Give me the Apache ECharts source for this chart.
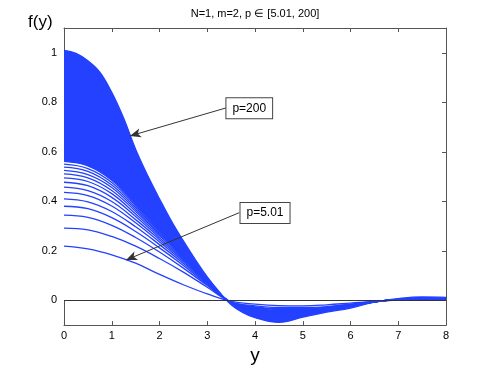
<!DOCTYPE html>
<html>
<head>
<meta charset="utf-8">
<script src="https://cdn.jsdelivr.net/npm/echarts@6/dist/echarts.min.js"></script>
<style>
  html, body { margin: 0; padding: 0; background: #fff; }
  #chart { width: 493px; height: 370px; }
</style>
</head>
<body>
<div id="chart"></div>
<script>
// sample positions on the y axis (horizontal)
const yPos = [0, 0.5, 1, 1.5, 2, 2.5, 3, 3.5, 4, 4.5, 5, 5.5, 6, 6.5, 7, 7.5, 8];
// finer positions for the steep p=200 curve
const yPosTop = [0, 0.25, 0.5, 0.75, 1, 1.25, 1.5, 1.75, 2, 2.25, 2.5, 2.75, 3, 3.25, 3.5, 3.75, 4, 4.5, 5, 5.5, 6, 6.5, 7, 7.5, 8];

// lowest curve, p = 5.01
const curveP501 = [0.219, 0.208, 0.184, 0.150, 0.105, 0.063, 0.026, -0.004, -0.015, -0.021, -0.022, -0.018, -0.011, -0.004, 0.001, 0.003, 0.003];

const curvesMid = [
  [0.292, 0.285, 0.258, 0.219, 0.169, 0.114, 0.053, -0.006, -0.022, -0.029, -0.029, -0.025, -0.015, -0.004, 0.002, 0.004, 0.004],
  [0.344, 0.335, 0.303, 0.254, 0.195, 0.130, 0.060, -0.007, -0.026, -0.034, -0.034, -0.028, -0.017, -0.005, 0.003, 0.005, 0.005],
  [0.380, 0.370, 0.334, 0.278, 0.212, 0.141, 0.064, -0.008, -0.028, -0.037, -0.036, -0.031, -0.018, -0.005, 0.003, 0.006, 0.006],
  [0.410, 0.398, 0.359, 0.297, 0.225, 0.149, 0.068, -0.008, -0.030, -0.040, -0.039, -0.032, -0.019, -0.006, 0.003, 0.006, 0.006],
  [0.436, 0.423, 0.381, 0.313, 0.236, 0.156, 0.071, -0.009, -0.032, -0.043, -0.041, -0.034, -0.020, -0.006, 0.003, 0.007, 0.006],
  [0.457, 0.443, 0.399, 0.326, 0.245, 0.162, 0.073, -0.009, -0.033, -0.044, -0.042, -0.035, -0.021, -0.006, 0.004, 0.007, 0.007],
  [0.477, 0.463, 0.416, 0.339, 0.253, 0.167, 0.075, -0.010, -0.035, -0.046, -0.044, -0.036, -0.022, -0.006, 0.004, 0.007, 0.007],
  [0.495, 0.480, 0.431, 0.349, 0.261, 0.171, 0.077, -0.010, -0.036, -0.048, -0.045, -0.037, -0.022, -0.006, 0.004, 0.007, 0.007],
  [0.511, 0.495, 0.444, 0.359, 0.267, 0.175, 0.078, -0.010, -0.037, -0.049, -0.046, -0.038, -0.023, -0.006, 0.004, 0.008, 0.007],
  [0.525, 0.508, 0.456, 0.367, 0.272, 0.178, 0.079, -0.011, -0.038, -0.050, -0.047, -0.038, -0.023, -0.006, 0.004, 0.008, 0.007],
  [0.538, 0.521, 0.466, 0.375, 0.277, 0.181, 0.081, -0.011, -0.039, -0.052, -0.048, -0.039, -0.023, -0.006, 0.004, 0.008, 0.007],
  [0.550, 0.532, 0.476, 0.382, 0.282, 0.184, 0.082, -0.011, -0.040, -0.053, -0.048, -0.039, -0.024, -0.006, 0.004, 0.008, 0.008],
  [0.561, 0.543, 0.485, 0.388, 0.286, 0.186, 0.082, -0.011, -0.040, -0.054, -0.049, -0.040, -0.024, -0.007, 0.004, 0.008, 0.008]
];

// highest curve, p = 200 (the dense curves between the last mid one and this fill solid)
const curveP200 = [1.01, 0.998, 0.968, 0.922, 0.84, 0.735, 0.61, 0.505, 0.41, 0.32, 0.24, 0.165, 0.095, 0.035, -0.018, -0.05, -0.07, -0.089, -0.068, -0.048, -0.031, -0.007, 0.007, 0.014, 0.012];

const yTicks = [0, 0.2, 0.4, 0.6, 0.8, 1];
const pLabels = ['p=200', 'p=5.01'];

const blue = '#2341ff';
const font = 'Liberation Sans';

let myChart = echarts.init(document.getElementById('chart'));

function toPairs(xs, c) {
  return xs.map((x, i) => [x, c[i]]);
}

const lastMid = curvesMid[curvesMid.length - 1];
let series = [];

// dense band: fill under p=200 in blue, then blank out under the last distinct curve
series.push({
  type: 'line',
  data: toPairs(yPosTop, curveP200),
  smooth: 0.4,
  showSymbol: false,
  silent: true,
  lineStyle: { color: blue, width: 1.3 },
  areaStyle: { color: blue, opacity: 1, origin: 0 }
});
series.push({
  type: 'line',
  data: toPairs(yPos, lastMid),
  smooth: 0.4,
  showSymbol: false,
  silent: true,
  lineStyle: { width: 0 },
  areaStyle: { color: '#fff', opacity: 1, origin: 0 }
});

series.push({
  type: 'line',
  data: toPairs(yPos, curveP501),
  smooth: 0.4,
  showSymbol: false,
  silent: true,
  lineStyle: { color: blue, width: 1.3 },
  markLine: {
    silent: true,
    symbol: ['none', 'arrow'],
    symbolSize: [7, 11],
    label: { show: false },
    lineStyle: { color: '#333', width: 1, type: 'solid' },
    data: [
      [{ coord: [3.39, 0.777] }, { coord: [1.38, 0.664] }],
      [{ coord: [3.67, 0.354] }, { coord: [1.30, 0.163] }]
    ]
  },
  markPoint: {
    silent: true,
    symbol: 'rect',
    symbolSize: 0,
    label: {
      show: true,
      position: 'inside',
      formatter: p => p.name,
      color: '#000',
      fontSize: 12,
      fontFamily: font,
      backgroundColor: '#fff',
      borderColor: '#444',
      borderWidth: 1,
      padding: [4, 6]
    },
    data: [
      { name: pLabels[0], coord: [3.88, 0.776] },
      { name: pLabels[1], coord: [4.21, 0.353] }
    ]
  }
});

curvesMid.forEach(function (c) {
  series.push({
    type: 'line',
    data: toPairs(yPos, c),
    smooth: 0.4,
    showSymbol: false,
    silent: true,
    lineStyle: { color: blue, width: 1.3 }
  });
});

// zero line
series.push({
  type: 'line',
  data: [],
  markLine: {
    silent: true,
    symbol: 'none',
    label: { show: false },
    lineStyle: { color: '#333', width: 1, type: 'solid' },
    data: [{ yAxis: 0 }]
  }
});

const axisCommon = {
  axisLine: { show: true, onZero: false, lineStyle: { color: '#555', width: 1 } },
  axisTick: { show: true, inside: true, length: 4, lineStyle: { color: '#555' } },
  splitLine: { show: false }
};

var option = {
  animation: false,
  grid: { left: 64, right: 47, top: 28, bottom: 41 },
  xAxis: [
    Object.assign({}, axisCommon, {
      type: 'value', min: 0, max: 8, interval: 1, position: 'bottom',
      name: 'y', nameLocation: 'middle', nameGap: 18,
      nameTextStyle: { fontSize: 19, fontFamily: font, color: '#000' },
      axisLabel: { fontSize: 11, fontFamily: font, color: '#000', margin: 5 }
    }),
    Object.assign({}, axisCommon, {
      type: 'value', min: 0, max: 8, interval: 1, position: 'top',
      axisLabel: { show: false }
    })
  ],
  yAxis: [
    Object.assign({}, axisCommon, {
      type: 'value', min: -0.1, max: 1.1, position: 'left',
      axisTick: { show: true, inside: true, length: 4, lineStyle: { color: '#555' }, customValues: yTicks },
      axisLabel: { fontSize: 11, fontFamily: font, color: '#000', margin: 7, customValues: yTicks }
    }),
    Object.assign({}, axisCommon, {
      type: 'value', min: -0.1, max: 1.1, position: 'right',
      axisTick: { show: true, inside: true, length: 4, lineStyle: { color: '#555' }, customValues: yTicks },
      axisLabel: { show: false }
    })
  ],
  graphic: [
    { type: 'text', x: 255, y: 8, style: { text: 'N=1, m=2, p \u2208 [5.01, 200]', fontSize: 11, fontFamily: font, fill: '#000', align: 'center' } },
    { type: 'text', x: 28, y: 14, style: { text: 'f(y)', fontSize: 17, fontFamily: font, fill: '#000' } }
  ],
  series: series
};
myChart.setOption(option);
</script>
</body>
</html>
